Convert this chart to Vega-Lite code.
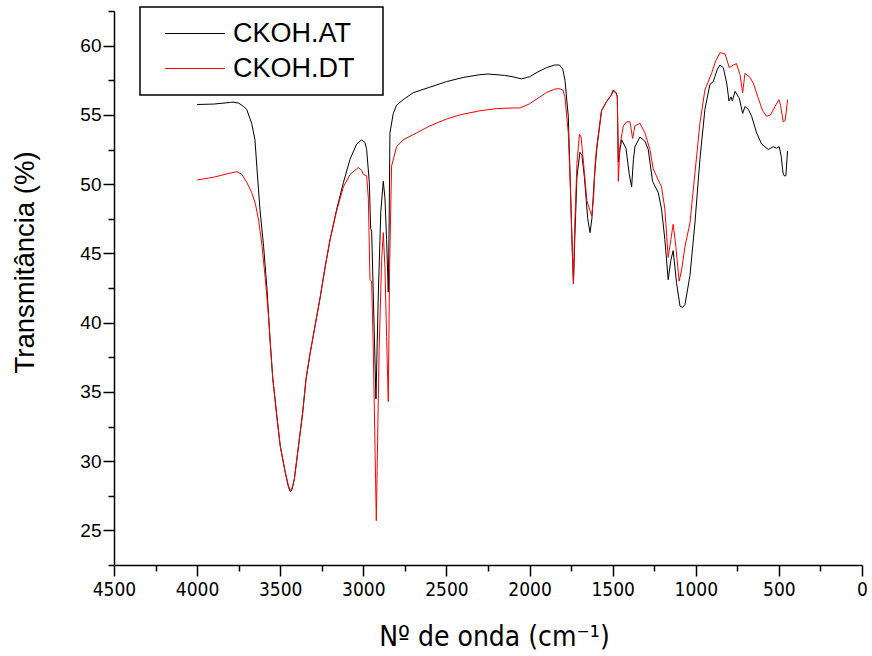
{
  "$schema": "https://vega.github.io/schema/vega-lite/v6.json",
  "width": 748,
  "height": 554,
  "autosize": {"type": "none"},
  "padding": {"left": 114, "top": 11, "right": 10, "bottom": 91},
  "background": "white",
  "config": {
    "view": {"stroke": null},
    "axis": {"domainColor": "black", "tickColor": "black", "labelColor": "black", "titleColor": "black", "grid": false, "domainWidth": 1.5, "tickWidth": 1.5},
    "legend": {"strokeWidth": 1.5}
  },
  "datasets": {
    "ir": [
      {"wn": 4000, "t": 55.75, "s": "CKOH.AT"}, {"wn": 3900, "t": 55.78, "s": "CKOH.AT"}, {"wn": 3800, "t": 55.9, "s": "CKOH.AT"}, {"wn": 3784, "t": 55.92, "s": "CKOH.AT"}, {"wn": 3750, "t": 55.85, "s": "CKOH.AT"}, {"wn": 3720, "t": 55.6, "s": "CKOH.AT"}, {"wn": 3702, "t": 55.4, "s": "CKOH.AT"}, {"wn": 3672, "t": 54.4, "s": "CKOH.AT"}, {"wn": 3652, "t": 53.2, "s": "CKOH.AT"}, {"wn": 3638, "t": 50.8, "s": "CKOH.AT"}, {"wn": 3622, "t": 48.2, "s": "CKOH.AT"}, {"wn": 3600, "t": 45.5, "s": "CKOH.AT"}, {"wn": 3580, "t": 42.5, "s": "CKOH.AT"}, {"wn": 3560, "t": 38.5, "s": "CKOH.AT"}, {"wn": 3545, "t": 36.0, "s": "CKOH.AT"}, {"wn": 3520, "t": 33.2, "s": "CKOH.AT"}, {"wn": 3500, "t": 31.1, "s": "CKOH.AT"}, {"wn": 3470, "t": 29.2, "s": "CKOH.AT"}, {"wn": 3450, "t": 28.1, "s": "CKOH.AT"}, {"wn": 3440, "t": 27.8, "s": "CKOH.AT"}, {"wn": 3430, "t": 27.9, "s": "CKOH.AT"}, {"wn": 3415, "t": 28.7, "s": "CKOH.AT"}, {"wn": 3390, "t": 31.1, "s": "CKOH.AT"}, {"wn": 3365, "t": 33.5, "s": "CKOH.AT"}, {"wn": 3345, "t": 35.9, "s": "CKOH.AT"}, {"wn": 3320, "t": 37.8, "s": "CKOH.AT"}, {"wn": 3290, "t": 39.8, "s": "CKOH.AT"}, {"wn": 3260, "t": 41.8, "s": "CKOH.AT"}, {"wn": 3230, "t": 44.0, "s": "CKOH.AT"}, {"wn": 3200, "t": 46.0, "s": "CKOH.AT"}, {"wn": 3160, "t": 48.2, "s": "CKOH.AT"}, {"wn": 3120, "t": 50.1, "s": "CKOH.AT"}, {"wn": 3080, "t": 51.8, "s": "CKOH.AT"}, {"wn": 3040, "t": 52.9, "s": "CKOH.AT"}, {"wn": 3010, "t": 53.2, "s": "CKOH.AT"}, {"wn": 2990, "t": 53.0, "s": "CKOH.AT"}, {"wn": 2980, "t": 52.5, "s": "CKOH.AT"}, {"wn": 2964, "t": 50.1, "s": "CKOH.AT"}, {"wn": 2956, "t": 46.8, "s": "CKOH.AT"}, {"wn": 2950, "t": 46.6, "s": "CKOH.AT"}, {"wn": 2940, "t": 42.0, "s": "CKOH.AT"}, {"wn": 2924, "t": 34.5, "s": "CKOH.AT"}, {"wn": 2910, "t": 42.0, "s": "CKOH.AT"}, {"wn": 2895, "t": 48.0, "s": "CKOH.AT"}, {"wn": 2880, "t": 50.2, "s": "CKOH.AT"}, {"wn": 2870, "t": 49.0, "s": "CKOH.AT"}, {"wn": 2860, "t": 46.0, "s": "CKOH.AT"}, {"wn": 2850, "t": 42.2, "s": "CKOH.AT"}, {"wn": 2845, "t": 47.0, "s": "CKOH.AT"}, {"wn": 2840, "t": 53.7, "s": "CKOH.AT"}, {"wn": 2820, "t": 55.1, "s": "CKOH.AT"}, {"wn": 2800, "t": 55.7, "s": "CKOH.AT"}, {"wn": 2760, "t": 56.1, "s": "CKOH.AT"}, {"wn": 2700, "t": 56.6, "s": "CKOH.AT"}, {"wn": 2600, "t": 57.0, "s": "CKOH.AT"}, {"wn": 2500, "t": 57.4, "s": "CKOH.AT"}, {"wn": 2400, "t": 57.7, "s": "CKOH.AT"}, {"wn": 2300, "t": 57.9, "s": "CKOH.AT"}, {"wn": 2250, "t": 57.95, "s": "CKOH.AT"}, {"wn": 2150, "t": 57.85, "s": "CKOH.AT"}, {"wn": 2100, "t": 57.75, "s": "CKOH.AT"}, {"wn": 2050, "t": 57.6, "s": "CKOH.AT"}, {"wn": 2000, "t": 57.75, "s": "CKOH.AT"}, {"wn": 1950, "t": 58.1, "s": "CKOH.AT"}, {"wn": 1900, "t": 58.4, "s": "CKOH.AT"}, {"wn": 1850, "t": 58.6, "s": "CKOH.AT"}, {"wn": 1820, "t": 58.6, "s": "CKOH.AT"}, {"wn": 1800, "t": 58.3, "s": "CKOH.AT"}, {"wn": 1787, "t": 57.5, "s": "CKOH.AT"}, {"wn": 1767, "t": 54.9, "s": "CKOH.AT"}, {"wn": 1757, "t": 51.0, "s": "CKOH.AT"}, {"wn": 1745, "t": 46.0, "s": "CKOH.AT"}, {"wn": 1736, "t": 42.8, "s": "CKOH.AT"}, {"wn": 1728, "t": 46.0, "s": "CKOH.AT"}, {"wn": 1715, "t": 50.5, "s": "CKOH.AT"}, {"wn": 1697, "t": 52.3, "s": "CKOH.AT"}, {"wn": 1685, "t": 52.1, "s": "CKOH.AT"}, {"wn": 1670, "t": 50.5, "s": "CKOH.AT"}, {"wn": 1650, "t": 47.5, "s": "CKOH.AT"}, {"wn": 1636, "t": 46.5, "s": "CKOH.AT"}, {"wn": 1625, "t": 47.5, "s": "CKOH.AT"}, {"wn": 1610, "t": 50.5, "s": "CKOH.AT"}, {"wn": 1596, "t": 52.5, "s": "CKOH.AT"}, {"wn": 1567, "t": 55.3, "s": "CKOH.AT"}, {"wn": 1540, "t": 55.9, "s": "CKOH.AT"}, {"wn": 1510, "t": 56.4, "s": "CKOH.AT"}, {"wn": 1496, "t": 56.8, "s": "CKOH.AT"}, {"wn": 1480, "t": 56.6, "s": "CKOH.AT"}, {"wn": 1472, "t": 56.3, "s": "CKOH.AT"}, {"wn": 1466, "t": 51.6, "s": "CKOH.AT"}, {"wn": 1456, "t": 52.5, "s": "CKOH.AT"}, {"wn": 1446, "t": 53.2, "s": "CKOH.AT"}, {"wn": 1420, "t": 52.6, "s": "CKOH.AT"}, {"wn": 1400, "t": 50.7, "s": "CKOH.AT"}, {"wn": 1386, "t": 49.8, "s": "CKOH.AT"}, {"wn": 1375, "t": 51.8, "s": "CKOH.AT"}, {"wn": 1366, "t": 52.7, "s": "CKOH.AT"}, {"wn": 1336, "t": 53.4, "s": "CKOH.AT"}, {"wn": 1306, "t": 53.1, "s": "CKOH.AT"}, {"wn": 1286, "t": 52.5, "s": "CKOH.AT"}, {"wn": 1260, "t": 50.2, "s": "CKOH.AT"}, {"wn": 1226, "t": 49.4, "s": "CKOH.AT"}, {"wn": 1206, "t": 48.2, "s": "CKOH.AT"}, {"wn": 1186, "t": 46.0, "s": "CKOH.AT"}, {"wn": 1166, "t": 43.1, "s": "CKOH.AT"}, {"wn": 1150, "t": 44.5, "s": "CKOH.AT"}, {"wn": 1136, "t": 45.2, "s": "CKOH.AT"}, {"wn": 1116, "t": 42.9, "s": "CKOH.AT"}, {"wn": 1095, "t": 41.2, "s": "CKOH.AT"}, {"wn": 1080, "t": 41.1, "s": "CKOH.AT"}, {"wn": 1065, "t": 41.3, "s": "CKOH.AT"}, {"wn": 1035, "t": 43.4, "s": "CKOH.AT"}, {"wn": 1005, "t": 47.2, "s": "CKOH.AT"}, {"wn": 975, "t": 51.8, "s": "CKOH.AT"}, {"wn": 945, "t": 55.4, "s": "CKOH.AT"}, {"wn": 915, "t": 57.2, "s": "CKOH.AT"}, {"wn": 895, "t": 57.4, "s": "CKOH.AT"}, {"wn": 870, "t": 58.3, "s": "CKOH.AT"}, {"wn": 854, "t": 58.6, "s": "CKOH.AT"}, {"wn": 834, "t": 58.4, "s": "CKOH.AT"}, {"wn": 814, "t": 57.3, "s": "CKOH.AT"}, {"wn": 800, "t": 56.0, "s": "CKOH.AT"}, {"wn": 788, "t": 56.3, "s": "CKOH.AT"}, {"wn": 780, "t": 56.0, "s": "CKOH.AT"}, {"wn": 764, "t": 56.7, "s": "CKOH.AT"}, {"wn": 738, "t": 56.2, "s": "CKOH.AT"}, {"wn": 718, "t": 55.1, "s": "CKOH.AT"}, {"wn": 704, "t": 55.6, "s": "CKOH.AT"}, {"wn": 684, "t": 55.4, "s": "CKOH.AT"}, {"wn": 664, "t": 54.9, "s": "CKOH.AT"}, {"wn": 634, "t": 53.7, "s": "CKOH.AT"}, {"wn": 604, "t": 52.9, "s": "CKOH.AT"}, {"wn": 564, "t": 52.5, "s": "CKOH.AT"}, {"wn": 534, "t": 52.7, "s": "CKOH.AT"}, {"wn": 515, "t": 52.6, "s": "CKOH.AT"}, {"wn": 498, "t": 52.7, "s": "CKOH.AT"}, {"wn": 486, "t": 52.0, "s": "CKOH.AT"}, {"wn": 475, "t": 50.8, "s": "CKOH.AT"}, {"wn": 468, "t": 50.6, "s": "CKOH.AT"}, {"wn": 458, "t": 50.6, "s": "CKOH.AT"}, {"wn": 448, "t": 52.4, "s": "CKOH.AT"},
      {"wn": 4000, "t": 50.3, "s": "CKOH.DT"}, {"wn": 3900, "t": 50.5, "s": "CKOH.DT"}, {"wn": 3800, "t": 50.8, "s": "CKOH.DT"}, {"wn": 3760, "t": 50.9, "s": "CKOH.DT"}, {"wn": 3730, "t": 50.7, "s": "CKOH.DT"}, {"wn": 3700, "t": 50.1, "s": "CKOH.DT"}, {"wn": 3672, "t": 49.4, "s": "CKOH.DT"}, {"wn": 3650, "t": 48.6, "s": "CKOH.DT"}, {"wn": 3630, "t": 47.4, "s": "CKOH.DT"}, {"wn": 3610, "t": 45.6, "s": "CKOH.DT"}, {"wn": 3590, "t": 43.2, "s": "CKOH.DT"}, {"wn": 3570, "t": 40.4, "s": "CKOH.DT"}, {"wn": 3545, "t": 36.0, "s": "CKOH.DT"}, {"wn": 3520, "t": 33.2, "s": "CKOH.DT"}, {"wn": 3500, "t": 31.1, "s": "CKOH.DT"}, {"wn": 3470, "t": 29.2, "s": "CKOH.DT"}, {"wn": 3450, "t": 28.2, "s": "CKOH.DT"}, {"wn": 3440, "t": 27.9, "s": "CKOH.DT"}, {"wn": 3430, "t": 28.0, "s": "CKOH.DT"}, {"wn": 3415, "t": 28.7, "s": "CKOH.DT"}, {"wn": 3390, "t": 31.1, "s": "CKOH.DT"}, {"wn": 3365, "t": 33.5, "s": "CKOH.DT"}, {"wn": 3345, "t": 35.9, "s": "CKOH.DT"}, {"wn": 3320, "t": 37.8, "s": "CKOH.DT"}, {"wn": 3290, "t": 39.8, "s": "CKOH.DT"}, {"wn": 3260, "t": 41.8, "s": "CKOH.DT"}, {"wn": 3230, "t": 44.0, "s": "CKOH.DT"}, {"wn": 3200, "t": 46.0, "s": "CKOH.DT"}, {"wn": 3160, "t": 48.1, "s": "CKOH.DT"}, {"wn": 3120, "t": 49.8, "s": "CKOH.DT"}, {"wn": 3080, "t": 50.7, "s": "CKOH.DT"}, {"wn": 3040, "t": 51.1, "s": "CKOH.DT"}, {"wn": 3030, "t": 51.2, "s": "CKOH.DT"}, {"wn": 3010, "t": 51.0, "s": "CKOH.DT"}, {"wn": 3000, "t": 50.7, "s": "CKOH.DT"}, {"wn": 2980, "t": 50.6, "s": "CKOH.DT"}, {"wn": 2970, "t": 49.0, "s": "CKOH.DT"}, {"wn": 2960, "t": 43.1, "s": "CKOH.DT"}, {"wn": 2950, "t": 43.0, "s": "CKOH.DT"}, {"wn": 2940, "t": 38.0, "s": "CKOH.DT"}, {"wn": 2922, "t": 25.7, "s": "CKOH.DT"}, {"wn": 2905, "t": 38.0, "s": "CKOH.DT"}, {"wn": 2890, "t": 44.5, "s": "CKOH.DT"}, {"wn": 2880, "t": 46.5, "s": "CKOH.DT"}, {"wn": 2870, "t": 44.0, "s": "CKOH.DT"}, {"wn": 2860, "t": 39.0, "s": "CKOH.DT"}, {"wn": 2850, "t": 34.3, "s": "CKOH.DT"}, {"wn": 2842, "t": 44.0, "s": "CKOH.DT"}, {"wn": 2830, "t": 51.3, "s": "CKOH.DT"}, {"wn": 2800, "t": 52.7, "s": "CKOH.DT"}, {"wn": 2760, "t": 53.2, "s": "CKOH.DT"}, {"wn": 2680, "t": 53.7, "s": "CKOH.DT"}, {"wn": 2600, "t": 54.2, "s": "CKOH.DT"}, {"wn": 2500, "t": 54.7, "s": "CKOH.DT"}, {"wn": 2418, "t": 55.0, "s": "CKOH.DT"}, {"wn": 2298, "t": 55.3, "s": "CKOH.DT"}, {"wn": 2200, "t": 55.45, "s": "CKOH.DT"}, {"wn": 2100, "t": 55.5, "s": "CKOH.DT"}, {"wn": 2057, "t": 55.5, "s": "CKOH.DT"}, {"wn": 2000, "t": 55.8, "s": "CKOH.DT"}, {"wn": 1950, "t": 56.2, "s": "CKOH.DT"}, {"wn": 1900, "t": 56.6, "s": "CKOH.DT"}, {"wn": 1850, "t": 56.85, "s": "CKOH.DT"}, {"wn": 1826, "t": 56.9, "s": "CKOH.DT"}, {"wn": 1800, "t": 56.8, "s": "CKOH.DT"}, {"wn": 1787, "t": 56.3, "s": "CKOH.DT"}, {"wn": 1767, "t": 53.7, "s": "CKOH.DT"}, {"wn": 1755, "t": 50.0, "s": "CKOH.DT"}, {"wn": 1745, "t": 46.0, "s": "CKOH.DT"}, {"wn": 1736, "t": 42.8, "s": "CKOH.DT"}, {"wn": 1728, "t": 47.0, "s": "CKOH.DT"}, {"wn": 1715, "t": 51.5, "s": "CKOH.DT"}, {"wn": 1700, "t": 53.6, "s": "CKOH.DT"}, {"wn": 1690, "t": 53.4, "s": "CKOH.DT"}, {"wn": 1675, "t": 51.5, "s": "CKOH.DT"}, {"wn": 1655, "t": 48.8, "s": "CKOH.DT"}, {"wn": 1626, "t": 47.7, "s": "CKOH.DT"}, {"wn": 1615, "t": 49.0, "s": "CKOH.DT"}, {"wn": 1605, "t": 51.5, "s": "CKOH.DT"}, {"wn": 1596, "t": 52.7, "s": "CKOH.DT"}, {"wn": 1567, "t": 55.3, "s": "CKOH.DT"}, {"wn": 1540, "t": 55.9, "s": "CKOH.DT"}, {"wn": 1510, "t": 56.4, "s": "CKOH.DT"}, {"wn": 1496, "t": 56.7, "s": "CKOH.DT"}, {"wn": 1480, "t": 56.6, "s": "CKOH.DT"}, {"wn": 1472, "t": 56.3, "s": "CKOH.DT"}, {"wn": 1466, "t": 50.2, "s": "CKOH.DT"}, {"wn": 1456, "t": 52.8, "s": "CKOH.DT"}, {"wn": 1436, "t": 54.2, "s": "CKOH.DT"}, {"wn": 1416, "t": 54.5, "s": "CKOH.DT"}, {"wn": 1396, "t": 54.5, "s": "CKOH.DT"}, {"wn": 1380, "t": 53.3, "s": "CKOH.DT"}, {"wn": 1366, "t": 54.2, "s": "CKOH.DT"}, {"wn": 1336, "t": 54.4, "s": "CKOH.DT"}, {"wn": 1306, "t": 53.7, "s": "CKOH.DT"}, {"wn": 1276, "t": 52.5, "s": "CKOH.DT"}, {"wn": 1256, "t": 51.1, "s": "CKOH.DT"}, {"wn": 1226, "t": 50.3, "s": "CKOH.DT"}, {"wn": 1206, "t": 49.8, "s": "CKOH.DT"}, {"wn": 1186, "t": 48.2, "s": "CKOH.DT"}, {"wn": 1166, "t": 44.7, "s": "CKOH.DT"}, {"wn": 1150, "t": 46.0, "s": "CKOH.DT"}, {"wn": 1136, "t": 47.1, "s": "CKOH.DT"}, {"wn": 1120, "t": 45.5, "s": "CKOH.DT"}, {"wn": 1100, "t": 43.0, "s": "CKOH.DT"}, {"wn": 1085, "t": 43.8, "s": "CKOH.DT"}, {"wn": 1065, "t": 45.5, "s": "CKOH.DT"}, {"wn": 1035, "t": 47.2, "s": "CKOH.DT"}, {"wn": 1005, "t": 50.8, "s": "CKOH.DT"}, {"wn": 975, "t": 54.4, "s": "CKOH.DT"}, {"wn": 945, "t": 56.8, "s": "CKOH.DT"}, {"wn": 905, "t": 58.0, "s": "CKOH.DT"}, {"wn": 880, "t": 58.9, "s": "CKOH.DT"}, {"wn": 854, "t": 59.5, "s": "CKOH.DT"}, {"wn": 824, "t": 59.4, "s": "CKOH.DT"}, {"wn": 798, "t": 58.4, "s": "CKOH.DT"}, {"wn": 775, "t": 58.6, "s": "CKOH.DT"}, {"wn": 755, "t": 58.7, "s": "CKOH.DT"}, {"wn": 734, "t": 57.9, "s": "CKOH.DT"}, {"wn": 718, "t": 56.6, "s": "CKOH.DT"}, {"wn": 704, "t": 58.0, "s": "CKOH.DT"}, {"wn": 674, "t": 57.7, "s": "CKOH.DT"}, {"wn": 654, "t": 57.3, "s": "CKOH.DT"}, {"wn": 624, "t": 56.2, "s": "CKOH.DT"}, {"wn": 598, "t": 55.3, "s": "CKOH.DT"}, {"wn": 574, "t": 54.9, "s": "CKOH.DT"}, {"wn": 550, "t": 55.0, "s": "CKOH.DT"}, {"wn": 524, "t": 55.6, "s": "CKOH.DT"}, {"wn": 500, "t": 56.1, "s": "CKOH.DT"}, {"wn": 490, "t": 55.7, "s": "CKOH.DT"}, {"wn": 474, "t": 54.5, "s": "CKOH.DT"}, {"wn": 462, "t": 54.6, "s": "CKOH.DT"}, {"wn": 448, "t": 56.1, "s": "CKOH.DT"}
    ]
  },
  "data": {"name": "ir"},
  "layer": [
    {
      "mark": {"type": "line", "strokeWidth": 1, "clip": true},
      "encoding": {
        "x": {
          "field": "wn", "type": "quantitative",
          "scale": {"domain": [0, 4500], "reverse": true, "nice": false, "zero": false},
          "axis": {
            "orient": "bottom", "format": "d",
            "values": [0, 500, 1000, 1500, 2000, 2500, 3000, 3500, 4000, 4500],
            "tickSize": 11, "labelFont": "Liberation Sans Narrow, Arial Narrow, DejaVu Sans Condensed, sans-serif", "labelFontSize": 19,
            "labelPadding": 4, "labelFlush": false, "labelOverlap": false,
            "title": "Nº de onda (cm⁻¹)", "titleFont": "Liberation Sans Narrow, Arial Narrow, DejaVu Sans Condensed, sans-serif",
            "titleFontSize": 28, "titleFontWeight": "normal", "titlePadding": 24, "titleX": 380
          }
        },
        "y": {
          "field": "t", "type": "quantitative",
          "scale": {"domain": [22.5, 62.5], "nice": false, "zero": false},
          "axis": {
            "orient": "left",
            "values": [25, 30, 35, 40, 45, 50, 55, 60],
            "tickSize": 11, "labelFont": "Liberation Sans, Arial, sans-serif", "labelFontSize": 19, "labelPadding": 2,
            "title": "Transmitância (%)", "titleFont": "Liberation Sans, Arial, sans-serif",
            "titleFontSize": 27.5, "titleFontWeight": "normal", "titlePadding": 40, "titleY": 251
          }
        },
        "color": {
          "field": "s", "type": "nominal",
          "scale": {"domain": ["CKOH.AT", "CKOH.DT"], "range": ["#000000", "#ff0000"]},
          "legend": {
            "orient": "none", "legendX": 26, "legendY": -4, "title": null,
            "symbolType": "M-2.3,0H2.3", "symbolSize": 676, "symbolStrokeWidth": 1,
            "labelFont": "Liberation Sans, Arial, sans-serif", "labelFontSize": 27, "labelColor": "black",
            "labelExpr": "datum.label + '\u00a0\u00a0\u200b'",
            "padding": 13, "symbolOffset": 28.5, "labelOffset": 24.5, "rowPadding": 7,
            "strokeColor": "black", "fillColor": "white"
          }
        }
      }
    },
    {
      "mark": {"type": "line", "strokeOpacity": 0},
      "encoding": {
        "x": {
          "field": "wn", "type": "quantitative",
          "axis": {"orient": "bottom", "values": [250, 750, 1250, 1750, 2250, 2750, 3250, 3750, 4250], "tickSize": 6, "labels": false, "domain": false, "title": null}
        },
        "y": {
          "field": "t", "type": "quantitative",
          "axis": {"orient": "left", "values": [22.5, 27.5, 32.5, 37.5, 42.5, 47.5, 52.5, 57.5, 62.5], "tickSize": 6, "labels": false, "domain": false, "title": null}
        },
        "detail": {"field": "s"}
      }
    }
  ],
  "resolve": {"axis": {"x": "independent", "y": "independent"}}
}
